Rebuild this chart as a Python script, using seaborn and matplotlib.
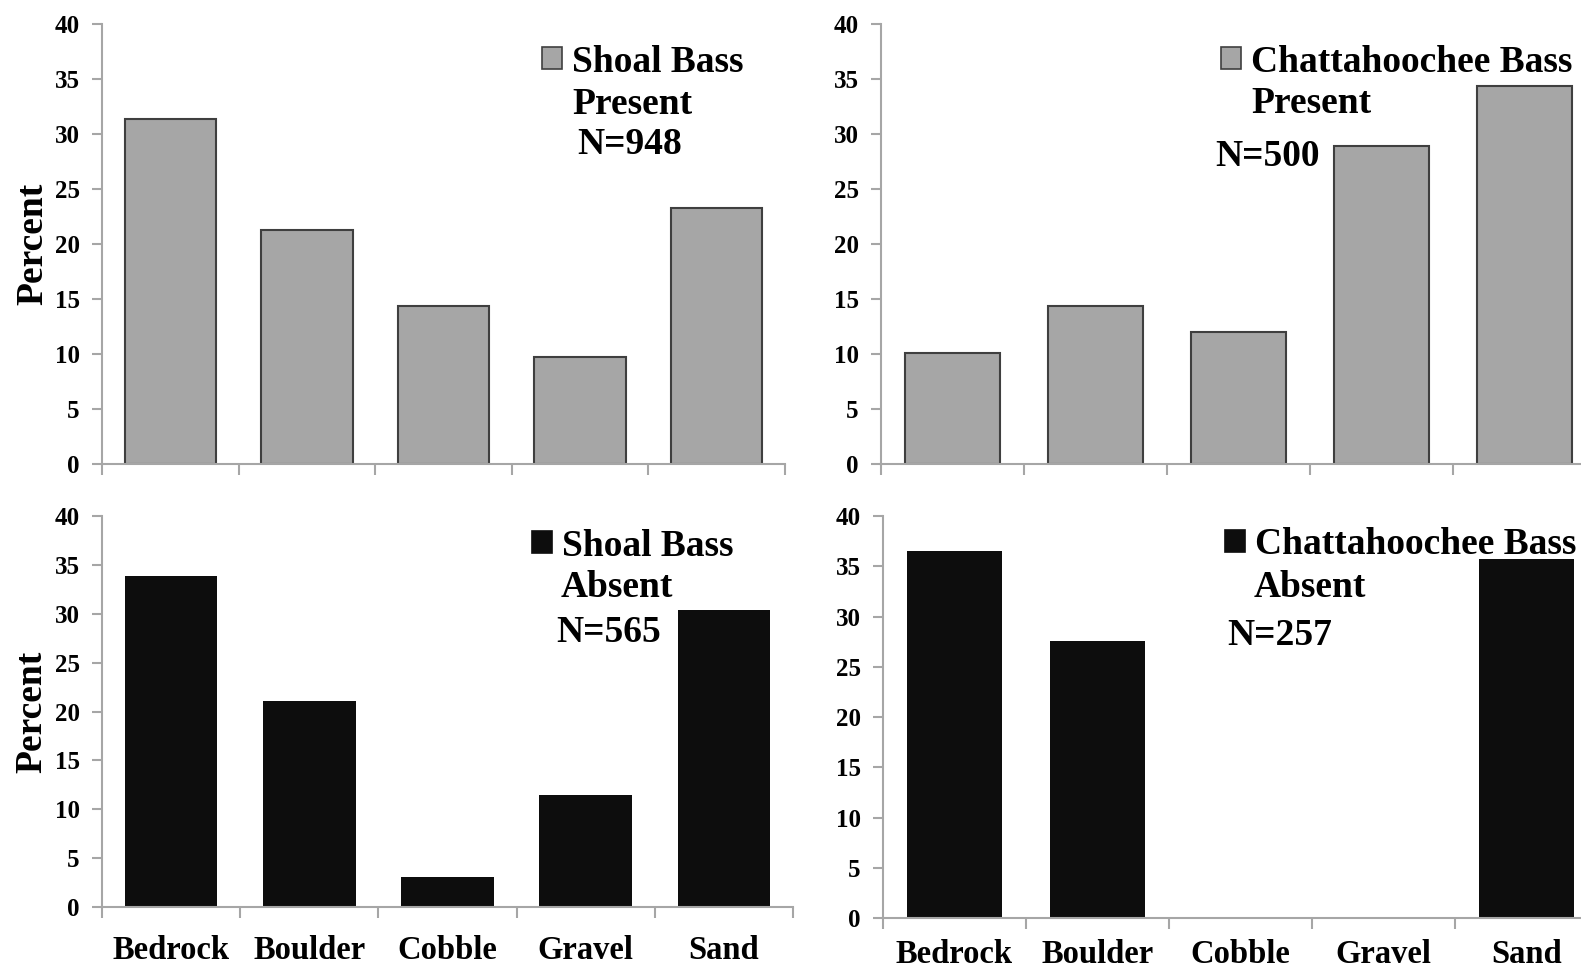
import numpy as np
import pandas as pd
import matplotlib
matplotlib.use("Agg")
import matplotlib.pyplot as plt
from matplotlib.patches import Patch
import seaborn as sns

# Substrate categories and percent of observations per panel
substrates = ["Bedrock", "Boulder", "Cobble", "Gravel", "Sand"]
shoal_present = [31.4, 21.3, 14.4, 9.7, 23.3]
chatt_present = [10.1, 14.4, 12.0, 28.9, 34.4]
shoal_absent = [33.9, 21.1, 3.1, 11.5, 30.4]
chatt_absent = [36.5, 27.6, 0.0, 0.0, 35.7]
y_ticks = [0, 5, 10, 15, 20, 25, 30, 35, 40]

W, H = 1581, 972
GRAY = "#A6A6A6"
BLACK = "#0D0D0D"
AXIS = "#A6A6A6"
KEY_SIZE = 27

sns.set_style("white")
plt.rcParams["font.family"] = ["Liberation Serif", "DejaVu Serif"]
plt.rcParams["font.weight"] = "bold"
plt.rcParams["text.color"] = "black"
plt.rcParams["axes.labelcolor"] = "black"
plt.rcParams["xtick.labelcolor"] = "black"
plt.rcParams["ytick.labelcolor"] = "black"

fig = plt.figure(figsize=(W / 100, H / 100), dpi=100)


def rect(left, right, top, bottom):
    return [left / W, 1 - bottom / H, (right - left) / W, (bottom - top) / H]


def fig_text(x, y, s, size=KEY_SIZE, ha="left"):
    fig.text(x / W, 1 - y / H, s, ha=ha, va="baseline", fontsize=size,
             fontweight="bold", color="black")


def panel(box, values, color, edge, lw, show_labels, ylabel, label_pad=20):
    ax = fig.add_axes(rect(*box))
    df = pd.DataFrame({"Substrate": substrates, "Percent": values})
    sns.barplot(data=df, x="Substrate", y="Percent", color=color, saturation=1,
                width=0.67, edgecolor=edge, linewidth=lw, ax=ax)
    ax.set_xlim(-0.5, len(substrates) - 0.5)
    ax.set_ylim(0, 40)
    ax.set_yticks(y_ticks)
    ax.set_yticklabels([str(t) for t in y_ticks], fontsize=18, fontweight="bold")
    ax.set_xticks(range(len(substrates)))
    ax.set_xticks(np.arange(-0.5, len(substrates), 1.0), minor=True)
    ax.tick_params(axis="x", which="major", length=0, pad=label_pad,
                   labelbottom=show_labels, labelsize=23.5)
    ax.tick_params(axis="x", which="minor", length=8, width=1.5, color=AXIS,
                   direction="out", bottom=True)
    ax.tick_params(axis="y", which="major", length=7, width=1.5, color=AXIS,
                   direction="out", left=True, pad=9)
    if show_labels:
        ax.set_xticklabels(substrates, fontweight="bold")
    for side in ("top", "right"):
        ax.spines[side].set_visible(False)
    for side in ("left", "bottom"):
        ax.spines[side].set_color(AXIS)
        ax.spines[side].set_linewidth(1.5)
    ax.set_xlabel("")
    if ylabel:
        ax.set_ylabel("Percent", fontsize=27, fontweight="bold", color="black")
        ax.yaxis.set_label_coords(-0.076, 0.5)
    else:
        ax.set_ylabel("")
    return ax


ax1 = panel((102, 785, 24, 464), shoal_present, GRAY, "#3F3F3F", 1.5, False, True)
ax2 = panel((881, 1596, 24, 464), chatt_present, GRAY, "#3F3F3F", 1.5, False, False)
ax3 = panel((102, 793, 516, 907), shoal_absent, BLACK, "#2A2A2A", 0.0, True, True)
ax4 = panel((883, 1598, 516, 918), chatt_absent, BLACK, "#2A2A2A", 0.0, True, False,
            label_pad=15)


def key(ax, x, yc, name, face, edge):
    handle = Patch(facecolor=face, edgecolor=edge, linewidth=1.2)
    leg = ax.legend([handle], [name], loc="center left",
                    bbox_to_anchor=(x / W, 1 - yc / H),
                    bbox_transform=fig.transFigure, frameon=False,
                    borderpad=0, borderaxespad=0, handlelength=0.53,
                    handleheight=0.53, handletextpad=0.27, labelcolor="black",
                    prop={"family": "Liberation Serif", "weight": "bold",
                          "size": KEY_SIZE})
    return leg


key(ax1, 542, 62, "Shoal Bass", GRAY, "#3F3F3F")
fig_text(572, 114, "Present")
fig_text(577, 154, "N=948")

key(ax2, 1221, 62, "Chattahoochee Bass", GRAY, "#3F3F3F")
fig_text(1251, 113, "Present")
fig_text(1215, 166, "N=500")

key(ax3, 532, 546, "Shoal Bass", BLACK, BLACK)
fig_text(561, 597, "Absent")
fig_text(556, 642, "N=565")

key(ax4, 1225, 545, "Chattahoochee Bass", BLACK, BLACK)
fig_text(1254, 597, "Absent")
fig_text(1227, 645, "N=257")

fig.savefig("out.png", dpi=100)
